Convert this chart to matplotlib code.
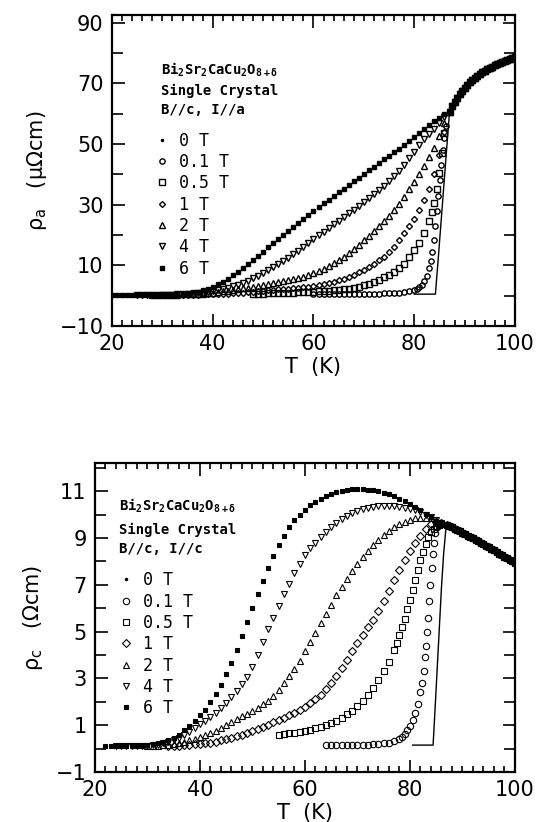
import numpy as np
import matplotlib
matplotlib.use('Agg')
import matplotlib.pyplot as plt
from matplotlib.lines import Line2D
from matplotlib.ticker import MultipleLocator

plt.rcParams['font.family'] = 'DejaVu Sans'
plt.rcParams['mathtext.default'] = 'regular'

labels = ['0 T', '0.1 T', '0.5 T', '1 T', '2 T', '4 T', '6 T']

# ---------------- rho_a (top panel), muOhm cm ----------------
T_a_normal = np.arange(174, 201) / 2
rho_a_normal = [60.5, 62.4, 64, 65.3, 66.5, 67.5, 68.5, 69.4, 70.3, 71.1, 71.8, 72.4, 73.0, 73.6,
                74.1, 74.6, 75.0, 75.5, 75.9, 76.3, 76.7, 77.1, 77.4, 77.7, 78.0, 78.3, 78.6]

T_a_0T = [80, 84.2, 84.8, 85.4, 86.0, 86.6]
rho_a_0T = [0.5, 0.5, 13, 26, 39, 52]

T_a_01T = list(range(60, 80)) + [80, 80.5, 81, 81.5, 82, 82.5, 83, 83.3, 83.6, 83.9, 84.2, 84.5,
                                 84.8, 85.1, 85.4, 85.7, 86.0, 86.4]
rho_a_01T = [0.5, 0.5, 0.5, 0.5, 0.5, 0.5, 0.5, 0.5, 0.55, 0.55, 0.6, 0.6, 0.65, 0.7, 0.75, 0.8,
             0.9, 1.0, 1.15, 1.4,
             1.8, 2.2, 2.8, 3.6, 4.8, 6.5, 9.0, 11.5, 14.5, 18.5, 23.0, 28.0, 33.0, 38.0, 43.0,
             48.0, 52.0, 56.0]

T_a_05T = np.concatenate([np.arange(48, 83), np.arange(166, 173) / 2])
rho_a_05T = [0.5, 0.6, 0.7, 0.75, 0.8, 0.85, 0.9, 0.95, 1.0, 1.05, 1.1, 1.2, 1.3, 1.4, 1.5,
             1.6, 1.75, 1.9, 2.1, 2.35, 2.65, 3.0, 3.4, 3.9, 4.5, 5.2, 6.0, 6.9, 7.9, 9.0,
             10.6, 12.6, 14.9, 17.5, 20.5,
             24.5, 27.5, 30.5, 35.0, 40.5, 47.0, 53.5]

T_a_1T = np.arange(30, 87)
rho_a_1T = [0.3, 0.3, 0.3, 0.3, 0.32, 0.34, 0.36, 0.38, 0.4, 0.45, 0.5, 0.55,
            0.6, 0.7, 0.8, 0.9, 1.0, 1.15, 1.3, 1.45, 1.6, 1.75, 1.9, 2.05, 2.2, 2.35, 2.5,
            2.65, 2.8, 3.0, 3.2, 3.5, 3.8, 4.2, 4.6, 5.1, 5.6, 6.2, 6.9, 7.7, 8.5, 9.5,
            10.5, 11.7, 12.9, 14.5, 16.2, 18.3, 20.5, 22.9, 25.4, 28.3, 31.5, 35.2, 40.0, 46.5, 54.0]

T_a_2T = np.arange(28, 87)
rho_a_2T = [0.3, 0.3, 0.3, 0.32, 0.34, 0.36, 0.4, 0.45, 0.5, 0.55,
            0.6, 0.8, 1.0, 1.2, 1.4, 1.65, 1.9, 2.15, 2.4, 2.65, 2.9, 3.2, 3.5, 3.8, 4.1,
            4.45, 4.8, 5.15, 5.5, 5.85, 6.2, 6.8, 7.4, 8.1, 8.9, 9.8, 10.7, 11.7, 12.8, 14.0,
            15.3, 16.7, 18.2, 19.7, 21.3, 22.9, 24.6, 26.4, 28.3, 30.3, 32.5, 35.0, 37.5, 40.0, 42.7,
            45.6, 48.8, 52.5, 57.0]

T_a_4T = np.arange(25, 87)
rho_a_4T = [0.3, 0.3, 0.3, 0.3, 0.3, 0.3, 0.32, 0.35, 0.4, 0.45, 0.55,
            0.7, 0.85, 1.0, 1.2, 1.5, 1.8, 2.2, 2.6, 3.1, 3.6, 4.2, 4.9, 5.7, 6.5, 7.4,
            8.4, 9.4, 10.4, 11.5, 12.5, 13.6, 14.8, 16.0, 17.3, 18.7, 19.9, 21.1, 22.3, 23.5, 24.7,
            25.9, 27.1, 28.4, 29.7, 31.0, 32.3, 33.6, 34.9, 36.3, 37.8, 39.3, 41.2, 43.2, 45.3, 47.5,
            49.5, 51.5, 53.3, 55.0, 57.0, 59.0]

T_a_6T = np.arange(20, 87)
rho_a_6T = [0.3, 0.3, 0.3, 0.3, 0.3, 0.3, 0.3, 0.3, 0.3, 0.35, 0.4, 0.45, 0.5, 0.6, 0.7,
            0.85, 1.05, 1.35, 1.75, 2.25, 2.9, 3.7, 4.6, 5.6, 6.7, 7.9, 9.1, 10.4, 11.8, 13.1,
            14.5, 15.9, 17.3, 18.6, 20.0, 21.3, 22.7, 24.0, 25.3, 26.6, 27.9, 29.1, 30.4, 31.6, 32.9,
            34.1, 35.3, 36.5, 37.7, 38.9, 40.1, 41.3, 42.5, 43.7, 44.9, 46.1, 47.3, 48.5, 49.8, 51.1,
            52.4, 53.7, 55.0, 56.3, 57.5, 58.7, 59.8]

# ---------------- rho_c (bottom panel), Ohm cm ----------------
T_c_normal = np.arange(174, 201) / 2
rho_c_normal = [9.55, 9.5, 9.45, 9.39, 9.33, 9.28, 9.22, 9.16, 9.1, 9.04, 8.98, 8.92, 8.86, 8.8,
                8.74, 8.67, 8.6, 8.54, 8.47, 8.4, 8.33, 8.27, 8.2, 8.13, 8.06, 8.0, 7.93]

T_c_0T = [80.5, 84.4, 84.8, 85.2, 85.6, 86.0, 86.4, 86.8]
rho_c_0T = [0.15, 0.15, 1.8, 3.5, 5.2, 6.9, 8.3, 9.3]

T_c_01T = list(range(64, 79)) + [78.5, 79, 79.5, 80, 80.5, 81, 81.5, 82, 82.3, 82.6, 82.9, 83.1,
                                 83.3, 83.5, 83.7, 83.9, 84.1, 84.3, 84.5, 84.8, 85.1, 85.5, 86]
rho_c_01T = [0.15, 0.15, 0.15, 0.15, 0.15, 0.15, 0.16, 0.16, 0.17, 0.18, 0.2, 0.22, 0.26, 0.32, 0.42,
             0.5, 0.62, 0.78, 0.98, 1.22, 1.52, 1.9, 2.4, 2.8, 3.3, 3.9, 4.4, 5.0, 5.6, 6.3, 7.0,
             7.7, 8.3, 8.8, 9.2, 9.45, 9.6, 9.62]

T_c_05T = np.concatenate([np.arange(55, 78), np.arange(155, 173) / 2])
rho_c_05T = [0.6, 0.62, 0.65, 0.68, 0.72, 0.76, 0.8, 0.86, 0.93, 1.01, 1.1, 1.2, 1.32, 1.46, 1.62,
             1.8, 2.02, 2.3, 2.6, 2.95, 3.3, 3.7, 4.2,
             4.5, 4.85, 5.2, 5.55, 5.95, 6.35, 6.78, 7.2, 7.63, 8.05, 8.42, 8.75, 9.02, 9.25, 9.4,
             9.5, 9.57, 9.6]

T_c_1T = np.arange(34, 87)
rho_c_1T = [0.1, 0.1, 0.12, 0.14, 0.16, 0.18, 0.2, 0.23, 0.26, 0.3, 0.35, 0.4, 0.46, 0.52, 0.6,
            0.68, 0.76, 0.85, 0.94, 1.03, 1.12, 1.22, 1.32, 1.42, 1.53, 1.65, 1.78, 1.93, 2.1, 2.3,
            2.55, 2.82, 3.12, 3.45, 3.8, 4.15, 4.5, 4.85, 5.2, 5.5, 5.9, 6.3, 6.75, 7.2, 7.65,
            8.05, 8.45, 8.8, 9.1, 9.38, 9.58, 9.68, 9.65]

T_c_2T = np.arange(30, 87)
rho_c_2T = [0.1, 0.1, 0.12, 0.14, 0.17, 0.2, 0.24, 0.3, 0.36, 0.43, 0.5, 0.58, 0.67, 0.77, 0.88,
            1.0, 1.12, 1.25, 1.38, 1.5, 1.62, 1.75, 1.9, 2.05, 2.25, 2.5, 2.8, 3.1, 3.4, 3.75,
            4.15, 4.55, 4.95, 5.35, 5.75, 6.15, 6.55, 6.9, 7.25, 7.6, 7.9, 8.2, 8.45, 8.7, 8.92,
            9.12, 9.3, 9.46, 9.6, 9.7, 9.78, 9.84, 9.87, 9.87, 9.84, 9.76, 9.65]

T_c_4T = np.arange(24, 87)
rho_c_4T = [0.1, 0.1, 0.1, 0.1, 0.1, 0.1, 0.12, 0.14, 0.17, 0.22, 0.28, 0.36, 0.46, 0.58, 0.72,
            0.88, 1.05, 1.2, 1.35, 1.52, 1.72, 1.95, 2.2, 2.45, 2.75, 3.05, 3.5, 4.0, 4.55, 5.1,
            5.6, 6.1, 6.6, 7.05, 7.5, 7.9, 8.25, 8.55, 8.8, 9.05, 9.27, 9.47, 9.64, 9.8, 9.94,
            10.06, 10.16, 10.24, 10.3, 10.34, 10.37, 10.38, 10.38, 10.37, 10.34, 10.3, 10.25, 10.18,
            10.1, 10.0, 9.9, 9.78, 9.65]

T_c_6T = np.arange(22, 87)
rho_c_6T = [0.1, 0.1, 0.1, 0.1, 0.1, 0.1, 0.12, 0.13, 0.15, 0.18, 0.22, 0.28, 0.36,
            0.45, 0.6, 0.78, 0.98, 1.2, 1.42, 1.67, 1.97, 2.32, 2.72, 3.17, 3.67, 4.22, 4.8, 5.4,
            6.0, 6.6, 7.17, 7.72, 8.22, 8.68, 9.1, 9.45, 9.75, 10.0, 10.2, 10.4, 10.55, 10.68, 10.8,
            10.88, 10.95, 11.0, 11.04, 11.07, 11.08, 11.08, 11.06, 11.03, 10.99, 10.93, 10.86, 10.78,
            10.68, 10.57, 10.45, 10.32, 10.18, 10.03, 9.88, 9.73, 9.62]

top_series = [(T_a_01T, rho_a_01T), (T_a_05T, rho_a_05T), (T_a_1T, rho_a_1T),
              (T_a_2T, rho_a_2T), (T_a_4T, rho_a_4T), (T_a_6T, rho_a_6T)]
bot_series = [(T_c_01T, rho_c_01T), (T_c_05T, rho_c_05T), (T_c_1T, rho_c_1T),
              (T_c_2T, rho_c_2T), (T_c_4T, rho_c_4T), (T_c_6T, rho_c_6T)]

marker_styles = [dict(marker='o'), dict(marker='s'), dict(marker='D'),
                 dict(marker='^'), dict(marker='v'), dict(marker='s', filled=True)]

mono = 'DejaVu Sans Mono'


def draw_panel(ax, series, T0, r0, Tn, rn, ms, mew, note, note_xy, leg_anchor, ylim, ymaj, ymin):
    ax.plot(list(T0) + list(Tn), list(r0) + list(rn), color='k', lw=1.0, zorder=1)
    handles = [Line2D([], [], ls='none', marker='.', color='k', ms=3)]
    for (T, r), st in zip(series, marker_styles):
        filled = st.get('filled', False)
        size = ms * 0.6 if filled else ms
        if st['marker'] == 'D':
            size = ms * 0.8
        kw = dict(ls='none', marker=st['marker'], ms=size, mec='k', mew=mew,
                  mfc='k' if filled else 'none')
        ax.plot(list(T) + list(Tn), list(r) + list(rn), **kw)
        handles.append(Line2D([], [], **kw))
    ax.set_xlim(20, 100)
    ax.set_ylim(*ylim)
    ax.xaxis.set_major_locator(MultipleLocator(20))
    ax.xaxis.set_minor_locator(MultipleLocator(2))
    ax.set_yticks(ymaj)
    ax.set_yticks(ymin, minor=True)
    ax.tick_params(which='both', direction='in', top=True, right=True, labelsize=15, width=1.2, pad=6)
    ax.tick_params(which='major', length=9)
    ax.tick_params(axis='x', which='minor', length=4)
    ax.tick_params(axis='y', which='minor', length=8)
    ax.set_yticklabels([str(v).replace('-', '\u2212') for v in ymaj])
    for s in ax.spines.values():
        s.set_linewidth(1.6)
    ax.set_xlabel('T  (K)', fontsize=15, labelpad=2)
    x, ys = note_xy
    for line, y in zip(note, ys):
        ax.text(x, y, line, transform=ax.transAxes, family=mono, weight='bold',
                fontsize=10, va='center', ha='left')
    ax.legend(handles, labels, loc='upper left', bbox_to_anchor=leg_anchor, frameon=False,
              handlelength=0.6, handletextpad=0.7, labelspacing=0.2, borderpad=0, borderaxespad=0,
              prop=dict(family=mono, size=12))


fig = plt.figure(figsize=(5.4, 8.22), dpi=100)
ax1 = fig.add_axes([0.2074, 0.6034, 0.7463, 0.3783])
ax2 = fig.add_axes([0.1759, 0.0608, 0.7778, 0.3759])

draw_panel(ax1, top_series, T_a_0T, rho_a_0T, T_a_normal, rho_a_normal, 3.8, 1.0,
           ['Bi$_2$Sr$_2$CaCu$_2$O$_{8+δ}$', 'Single Crystal', 'B//c, I//a'],
           (0.122, [0.823, 0.756, 0.695]), (0.112, 0.625), (-10, 92.5),
           [-10, 10, 30, 50, 70, 90], [0, 20, 40, 60, 80])
ax1.set_ylabel('ρ$_a$   (μΩcm)', fontsize=15, labelpad=8)

draw_panel(ax2, bot_series, T_c_0T, rho_c_0T, T_c_normal, rho_c_normal, 4.6, 0.8,
           ['Bi$_2$Sr$_2$CaCu$_2$O$_{8+δ}$', 'Single Crystal', 'B//c, I//c'],
           (0.057, [0.861, 0.783, 0.722]), (0.062, 0.65), (-1, 12.2),
           [-1, 1, 3, 5, 7, 9, 11], [0, 2, 4, 6, 8, 10, 12])
ax2.set_ylabel('ρ$_c$   (Ωcm)', fontsize=15, labelpad=8)

fig.savefig('out.png', dpi=100)
